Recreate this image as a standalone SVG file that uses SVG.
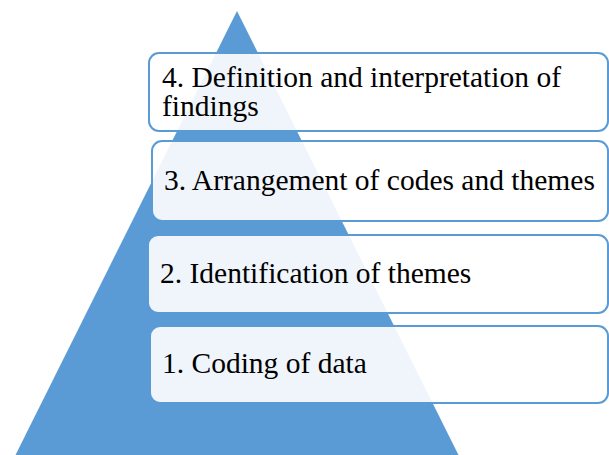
<svg xmlns="http://www.w3.org/2000/svg" width="609" height="455" viewBox="0 0 609 455">
<style>
.box{fill:#ffffff;fill-opacity:0.9;stroke:#5b9bd5;stroke-width:2}
.t{font-family:"Liberation Serif","Times New Roman",serif;font-size:29.5px;fill:#000}
</style>
<rect width="609" height="455" fill="#fff"/>
<polygon id="pyramid" points="237,11 14,458 460,458" fill="#5b9bd5"/>
<g id="step4"><rect class="box" x="149" y="53" width="459" height="78" rx="10"/>
<text class="t" x="162" y="87">4. Definition and interpretation of</text>
<text class="t" x="162" y="116">findings</text></g>
<g id="step3"><rect class="box" x="152" y="141" width="456" height="80" rx="10"/>
<text class="t" x="164" y="190">3. Arrangement of codes and themes</text></g>
<g id="step2"><rect class="box" x="148" y="235" width="460" height="78" rx="10"/>
<text class="t" x="160" y="283">2. Identification of themes</text></g>
<g id="step1"><rect class="box" x="150" y="326" width="458" height="77" rx="10"/>
<text class="t" x="162" y="373">1. Coding of data</text></g>
<g id="connectors"/>
</svg>
